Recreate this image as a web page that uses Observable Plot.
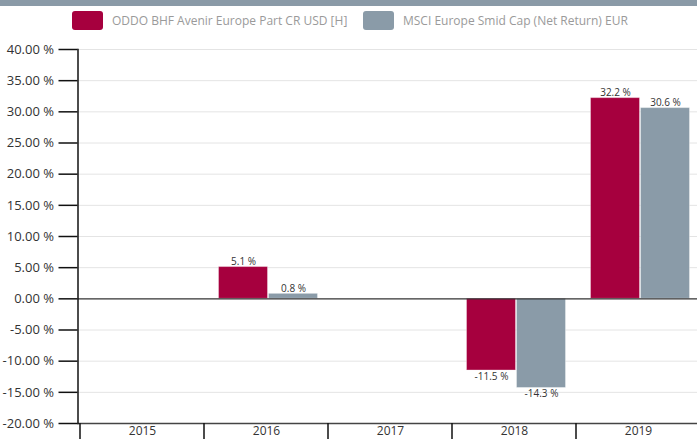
<!DOCTYPE html>
<html><head><meta charset="utf-8">
<script src="https://cdn.jsdelivr.net/npm/d3@7"></script>
<script src="https://cdn.jsdelivr.net/npm/@observablehq/plot@0.6"></script>
<style>
html,body{margin:0;padding:0;overflow:hidden;background:#fff;width:697px;height:439px;}
#band{height:6px;background:#8a9aa7;}
#legend{position:relative;height:30px;font-family:"Open Sans",sans-serif;font-size:12px;color:#9a9a9a;}
.sw{position:absolute;top:5px;width:31px;height:19px;border-radius:3px;}
.lt{position:absolute;top:5px;line-height:19px;white-space:nowrap;}
#chart{width:702px;}
#chart svg{display:block;max-width:none;}
</style></head><body>
<div id="band"></div>
<div id="legend"></div>
<div id="chart"></div>
<script>
const years = ["2015", "2016", "2017", "2018", "2019"];
const seriesNames = ["ODDO BHF Avenir Europe Part CR USD [H]", "MSCI Europe Smid Cap (Net Return) EUR"];
const fundValues = [null, 5.1, null, -11.5, 32.2];
const indexValues = [null, 0.8, null, -14.3, 30.6];
const yTicks = [-20, -15, -10, -5, 0, 5, 10, 15, 20, 25, 30, 35, 40];
const colors = ["#a6003e", "#8a9ba8"];

// legend
const legend = document.getElementById("legend");
const legendPos = [[72, 112], [363, 403]];
seriesNames.forEach((name, i) => {
  const sw = document.createElement("div");
  sw.className = "sw"; sw.style.left = legendPos[i][0] + "px"; sw.style.background = colors[i];
  const t = document.createElement("div");
  t.className = "lt"; t.style.left = legendPos[i][1] + "px"; t.textContent = name;
  legend.append(sw, t);
});

const toRows = (vals) => years.map((year, i) => ({year, value: vals[i]})).filter(d => d.value != null);
const fund = toRows(fundValues);
const index = toRows(indexValues);
const fmt = d => d.value.toFixed(1) + " %";

function labels(rows, dx) {
  return [
    Plot.text(rows.filter(d => d.value >= 0), {x: "year", y: "value", text: fmt, dx, dy: -2, lineAnchor: "bottom", fontSize: 10, fill: "#333"}),
    Plot.text(rows.filter(d => d.value < 0), {x: "year", y: "value", text: fmt, dx, dy: 2, lineAnchor: "top", fontSize: 10, fill: "#333"})
  ];
}

const chart = Plot.plot({
  width: 702,
  height: 403,
  marginTop: 13,
  marginBottom: 16,
  marginLeft: 77.5,
  marginRight: 0,
  style: {fontFamily: "'Open Sans', sans-serif", fontSize: "13px", color: "#333", background: "#fff", overflow: "visible", maxWidth: "none"},
  x: {domain: years, padding: 0, axis: null, label: null},
  y: {domain: [-20, 40], axis: null, label: null},
  marks: [
    Plot.ruleY(yTicks.filter(t => t !== 0 && t !== -20), {stroke: "#e4e4e4", strokeWidth: 1}),
    Plot.barY(fund, {x: "year", y: "value", fill: colors[0], stroke: "#ffffff", strokeOpacity: 0.35, insetLeft: 14.5, insetRight: 60.5}),
    Plot.barY(index, {x: "year", y: "value", fill: colors[1], stroke: "#ffffff", strokeOpacity: 0.35, insetLeft: 64.5, insetRight: 10.5}),
    Plot.ruleY([0], {stroke: "#333", strokeWidth: 1.2}),
    Plot.ruleY([-20], {stroke: "#444", strokeWidth: 1.5}),
    ...labels(fund, -23),
    ...labels(index, 27),
    Plot.frame({anchor: "left", stroke: "#111", strokeWidth: 1.5}),
    Plot.axisY(yTicks, {tickSize: 19, tickPadding: 5, tickFormat: d => d.toFixed(2) + " %", stroke: "#111", strokeWidth: 1.5, fill: "#333", fontSize: 13, label: null}),
    Plot.axisX({anchor: "bottom", tickSize: 0, tickPadding: 3, fontSize: 12, fill: "#333", label: null}),
    Plot.axisX({anchor: "bottom", tickSize: 16, tickFormat: () => "", dx: -62.5, stroke: "#111", strokeWidth: 1.5, label: null})
  ]
});
document.getElementById("chart").append(chart);
</script>
</body></html>
